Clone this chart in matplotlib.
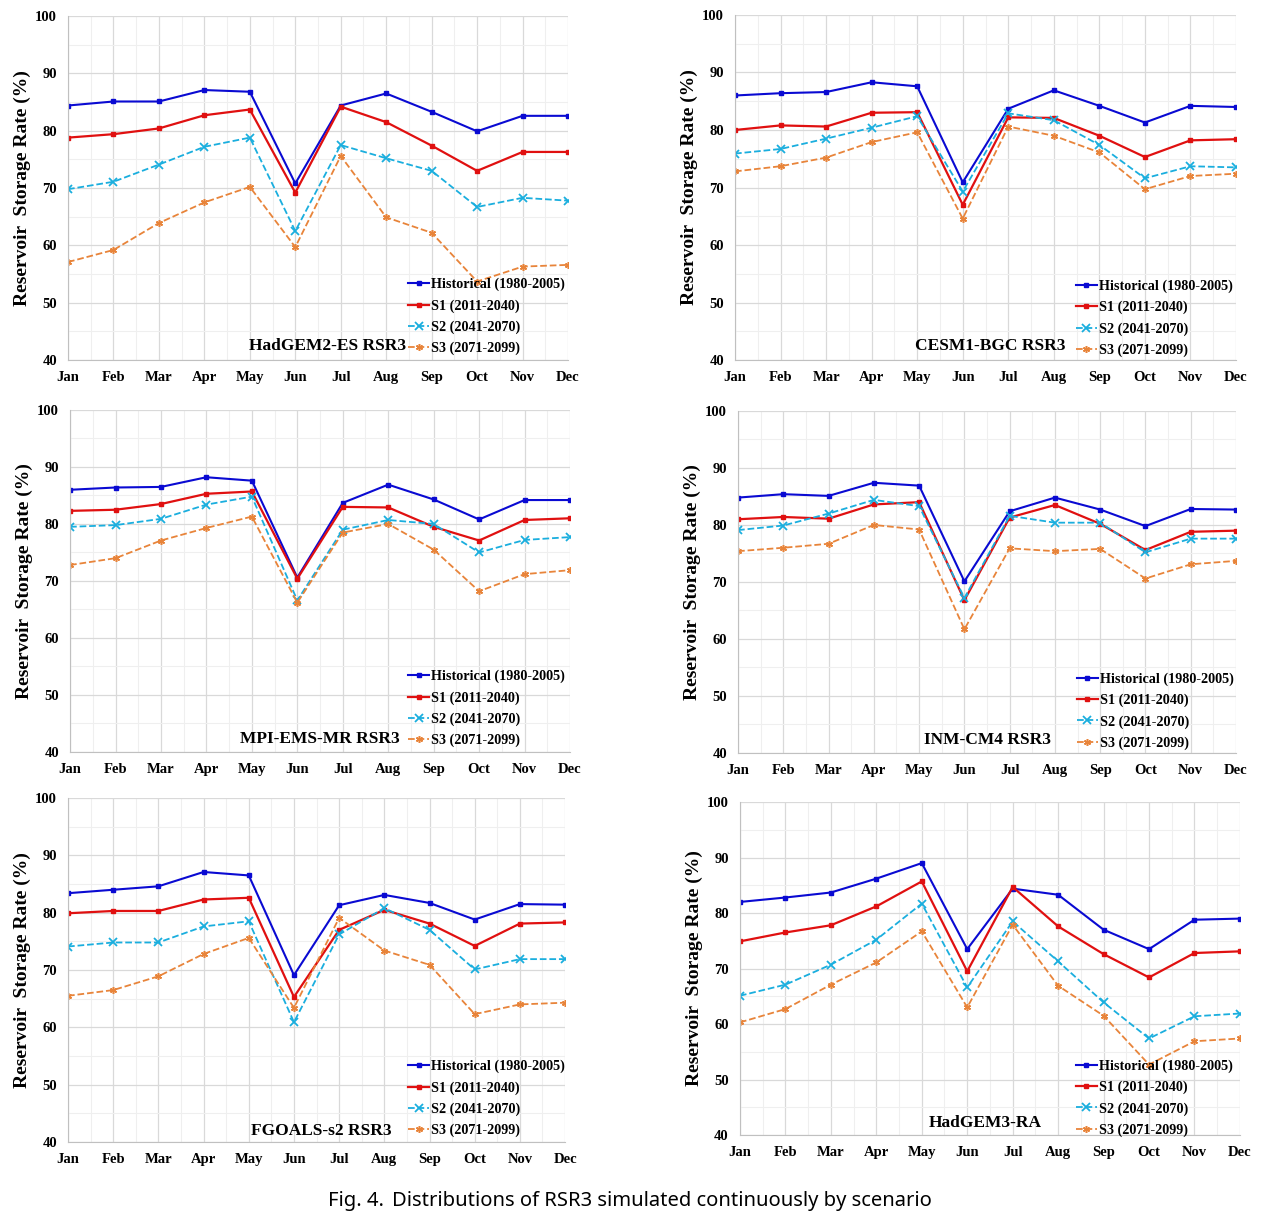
import matplotlib
matplotlib.use('Agg')
import matplotlib.pyplot as plt
import numpy as np

# month labels
months = ['Jan', 'Feb', 'Mar', 'Apr', 'May', 'Jun',
          'Jul', 'Aug', 'Sep', 'Oct', 'Nov', 'Dec']

series_names = ['Historical (1980-2005)', 'S1 (2011-2040)',
                'S2 (2041-2070)', 'S3 (2071-2099)']

# HadGEM2-ES RSR3
had2_hist = [84.4, 85.1, 85.1, 87.1, 86.8, 70.8, 84.4, 86.5, 83.3, 79.9, 82.6, 82.6]
had2_s1 = [78.8, 79.4, 80.4, 82.7, 83.7, 69.2, 84.2, 81.5, 77.4, 73.0, 76.3, 76.3]
had2_s2 = [69.8, 71.1, 74.1, 77.2, 78.8, 62.5, 77.5, 75.2, 73.0, 66.7, 68.3, 67.8]
had2_s3 = [57.1, 59.2, 63.9, 67.5, 70.2, 59.7, 75.6, 64.9, 62.2, 53.7, 56.3, 56.6]

# CESM1-BGC RSR3
cesm_hist = [86.0, 86.4, 86.6, 88.3, 87.6, 70.9, 83.7, 86.9, 84.2, 81.3, 84.2, 84.0]
cesm_s1 = [80.0, 80.8, 80.6, 83.0, 83.1, 67.0, 82.2, 82.1, 79.0, 75.3, 78.2, 78.4]
cesm_s2 = [75.9, 76.7, 78.5, 80.4, 82.4, 69.3, 82.9, 81.7, 77.4, 71.6, 73.7, 73.5]
cesm_s3 = [72.8, 73.7, 75.2, 77.9, 79.6, 64.6, 80.6, 79.0, 76.1, 69.7, 72.0, 72.4]

# MPI-EMS-MR RSR3
mpi_hist = [86.0, 86.4, 86.5, 88.2, 87.6, 70.6, 83.7, 86.9, 84.3, 80.8, 84.2, 84.2]
mpi_s1 = [82.3, 82.5, 83.5, 85.3, 85.7, 70.4, 83.0, 82.9, 79.5, 77.1, 80.7, 81.0]
mpi_s2 = [79.5, 79.8, 80.9, 83.4, 84.8, 66.6, 79.0, 80.7, 80.0, 75.0, 77.2, 77.7]
mpi_s3 = [72.8, 74.0, 77.1, 79.3, 81.3, 66.2, 78.5, 80.0, 75.5, 68.2, 71.2, 71.9]

# INM-CM4 RSR3
inm_hist = [84.8, 85.4, 85.1, 87.4, 86.9, 70.1, 82.4, 84.8, 82.7, 79.8, 82.8, 82.7]
inm_s1 = [81.0, 81.4, 81.1, 83.6, 84.0, 66.8, 81.3, 83.5, 80.2, 75.6, 78.8, 79.0]
inm_s2 = [79.1, 79.9, 82.0, 84.4, 83.3, 67.2, 81.6, 80.4, 80.4, 75.2, 77.6, 77.6]
inm_s3 = [75.4, 76.0, 76.7, 80.0, 79.2, 61.7, 75.9, 75.4, 75.8, 70.6, 73.1, 73.7]

# FGOALS-s2 RSR3
fgo_hist = [83.4, 84.0, 84.6, 87.1, 86.5, 69.1, 81.3, 83.1, 81.7, 78.8, 81.5, 81.4]
fgo_s1 = [79.9, 80.3, 80.3, 82.3, 82.6, 65.3, 77.0, 80.5, 78.1, 74.2, 78.1, 78.3]
fgo_s2 = [74.1, 74.8, 74.8, 77.6, 78.5, 60.9, 76.2, 80.8, 77.0, 70.1, 71.9, 71.9]
fgo_s3 = [65.5, 66.5, 68.9, 72.8, 75.6, 63.4, 79.1, 73.4, 70.9, 62.3, 64.0, 64.3]

# HadGEM3-RA
had3_hist = [82.0, 82.8, 83.7, 86.2, 89.0, 73.5, 84.4, 83.3, 77.0, 73.5, 78.8, 79.0]
had3_s1 = [74.9, 76.5, 77.8, 81.2, 85.7, 69.5, 84.7, 77.6, 72.6, 68.4, 72.8, 73.1]
had3_s2 = [65.1, 67.1, 70.7, 75.2, 81.7, 66.6, 78.5, 71.3, 63.9, 57.4, 61.4, 61.9]
had3_s3 = [60.3, 62.7, 67.1, 71.1, 76.7, 63.0, 77.9, 66.9, 61.5, 52.7, 56.9, 57.4]

panels = [
    ('HadGEM2-ES RSR3', [had2_hist, had2_s1, had2_s2, had2_s3]),
    ('CESM1-BGC RSR3', [cesm_hist, cesm_s1, cesm_s2, cesm_s3]),
    ('MPI-EMS-MR RSR3', [mpi_hist, mpi_s1, mpi_s2, mpi_s3]),
    ('INM-CM4 RSR3', [inm_hist, inm_s1, inm_s2, inm_s3]),
    ('FGOALS-s2 RSR3', [fgo_hist, fgo_s1, fgo_s2, fgo_s3]),
    ('HadGEM3-RA', [had3_hist, had3_s1, had3_s2, had3_s3]),
]

# axes rectangles in figure fraction (left, bottom, width, height)
rects = [
    (0.0536, 0.7044, 0.3940, 0.2824),
    (0.5792, 0.7044, 0.3948, 0.2833),
    (0.0552, 0.3826, 0.3940, 0.2808),
    (0.5816, 0.3818, 0.3924, 0.2808),
    (0.0536, 0.0624, 0.3917, 0.2824),
    (0.5831, 0.0681, 0.3940, 0.2734),
]
# title positions (axes fraction) and legend anchor
title_pos = [(0.52, 0.018), (0.51, 0.018), (0.50, 0.015),
             (0.50, 0.015), (0.51, 0.01), (0.49, 0.012)]
leg_x = [0.66, 0.66, 0.656, 0.66, 0.664, 0.652]
leg_y = [-0.015, -0.02, -0.015, -0.02, -0.015, -0.035]

styles = [
    dict(color='#0a0ad2', ls='-', marker='s', ms=3, lw=1.5),
    dict(color='#e01010', ls='-', marker='s', ms=3.5, lw=1.6),
    dict(color='#1aaede', ls='--', marker='x', ms=5.5, mew=1.3, lw=1.3),
    dict(color='#e8843a', ls='--', marker=(6, 2, 0), ms=5, mew=1.1, lw=1.3),
]

serif = 'Liberation Serif'
fig = plt.figure(figsize=(12.69, 12.18), dpi=100)

x = np.arange(12)
for (title, data), rect, tp, lx, ly in zip(panels, rects, title_pos, leg_x, leg_y):
    ax = fig.add_axes(rect)
    for vals, name, st in zip(data, series_names, styles):
        ax.plot(x, vals, label=name, **st)
    ax.set_xlim(0, 11)
    ax.set_ylim(40, 100)
    ax.set_xticks(x)
    ax.set_xticklabels(months)
    ax.set_xticks(np.arange(0.5, 11, 1), minor=True)
    ax.set_yticks(np.arange(40, 101, 10))
    ax.set_yticks(np.arange(45, 100, 10), minor=True)
    ax.grid(which='major', color='#d9d9d9', lw=0.9)
    ax.grid(which='minor', color='#efefef', lw=0.8)
    ax.set_axisbelow(True)
    ax.tick_params(which='both', length=0)
    ax.tick_params(axis='x', pad=8)
    ax.tick_params(axis='y', pad=8)
    for lab in ax.get_xticklabels() + ax.get_yticklabels():
        lab.set_fontfamily(serif)
        lab.set_fontweight('bold')
        lab.set_fontsize(10.5)
    for s in ['top', 'right']:
        ax.spines[s].set_visible(False)
    for s in ['left', 'bottom']:
        ax.spines[s].set_color('#c0c0c0')
    ax.set_ylabel('Reservoir  Storage Rate (%)', family=serif,
                  fontweight='bold', fontsize=14, labelpad=3)
    ax.text(tp[0], tp[1], title, transform=ax.transAxes, ha='center',
            va='bottom', family=serif, fontweight='bold', fontsize=12.5)
    ax.legend(loc='lower left', bbox_to_anchor=(lx, ly), frameon=False,
              prop=dict(family=serif, weight='bold', size=10.2),
              handlelength=1.5, handletextpad=0.15, labelspacing=0.55,
              borderpad=0.2)

fig.text(328 / 1269, 1 - 1201 / 1218, 'Fig. 4.', family='Noto Sans',
         fontweight='bold', fontsize=14.5, va='center', ha='left')
fig.text(392 / 1269, 1 - 1201 / 1218,
         'Distributions of RSR3 simulated continuously by scenario',
         family='Noto Sans', fontsize=14.5, va='center', ha='left')

fig.savefig('out.png', dpi=100)
